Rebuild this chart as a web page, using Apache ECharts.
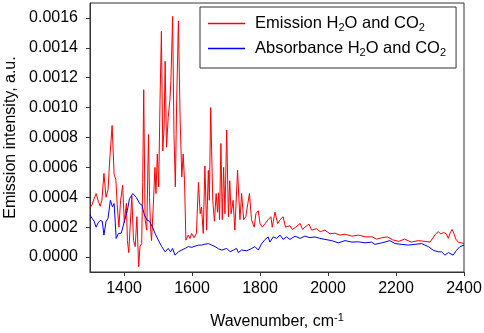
<!DOCTYPE html>
<html>
<head>
<meta charset="utf-8">
<script src="https://cdn.jsdelivr.net/npm/echarts@6/dist/echarts.min.js"></script>
<style>
html,body{margin:0;padding:0;background:#fff;}
#chart{width:484px;height:333px;}
</style>
</head>
<body>
<div id="chart"></div>
<script>
// Wavenumbers (cm-1) and emission values (units of 1e-4 a.u.)
var emissionX = [1300,1306,1312,1318,1325,1330,1335,1341,1347,1353,1358,1365,1371,1376,1380,1385,1390,1396,1401,1407,1410,1414,1418,1423,1428,1433,1438,1443,1447,1452,1455,1458,1462,1467,1472,1475,1478,1481,1486,1491,1494,1498,1502,1506,1510,1514,1518,1521,1525,1530,1535,1538,1543,1547,1551,1555,1560,1565,1570,1574,1578,1582,1589,1594,1599,1606,1613,1619,1624,1628,1633,1638,1643,1648,1651,1655,1661,1666,1671,1675,1678,1681,1685,1689,1693,1697,1702,1707,1711,1715,1721,1726,1734,1741,1746,1752,1758,1763,1769,1775,1783,1788,1795,1800,1807,1815,1824,1832,1836,1844,1852,1859,1868,1875,1880,1888,1895,1905,1918,1925,1932,1944,1952,1966,1977,1991,2006,2020,2035,2050,2070,2090,2110,2130,2143,2160,2175,2190,2208,2225,2245,2265,2285,2300,2305,2315,2324,2332,2340,2348,2354,2359,2365,2370,2376,2383,2392,2400];
var emissionY = [3.3,3.5,3.9,4.25,3.7,3.4,3.8,5.6,4.0,4.5,6.5,8.8,5.5,5.2,3.5,2.0,3.8,4.8,2.3,3.6,1.1,0.3,2.0,4.1,1.1,0.7,2.7,-0.65,0.7,0.9,5.0,11.2,2.5,1.8,8.2,4.0,2.0,1.1,3.35,6.0,4.25,6.9,4.7,10.5,15.1,7.1,8.7,13.1,7.35,9.35,10.5,11.8,16.1,8.2,4.7,10.5,15.8,9.3,5.35,6.9,5.1,1.13,1.47,1.24,1.58,1.3,1.58,5.0,2.9,3.35,1.58,6.1,1.8,5.8,3.8,10.0,3.8,2.4,4.25,3.0,4.3,2.5,7.6,2.5,6.0,2.9,8.5,2.7,5.1,2.9,3.8,1.8,5.8,2.5,4.25,2.5,2.7,2.7,4.25,2.5,2.0,2.9,3.1,2.24,2.0,2.24,2.5,2.7,2.0,3.0,2.24,2.5,2.7,2.0,1.9,2.1,1.85,2.0,2.25,1.85,2.0,2.2,1.8,1.9,1.7,1.8,1.55,1.6,1.47,1.53,1.4,1.47,1.35,1.35,1.2,1.3,1.35,1.15,1.05,1.2,1.0,1.1,1.05,1.0,1.1,1.5,1.7,1.55,1.65,1.55,1.25,1.6,1.85,1.6,1.2,1.0,0.95,0.9];

// Absorbance curve (units of 1e-4 a.u.)
var absorbanceX = [1300,1306,1312,1318,1324,1330,1336,1341,1347,1353,1360,1366,1371,1377,1384,1392,1402,1410,1416,1426,1436,1446,1453,1460,1468,1475,1484,1491,1501,1511,1521,1530,1537,1543,1550,1560,1570,1580,1589,1599,1609,1619,1628,1638,1648,1658,1668,1678,1688,1702,1712,1722,1731,1736,1746,1761,1776,1785,1795,1805,1815,1824,1829,1839,1849,1859,1868,1878,1888,1903,1918,1932,1947,1962,1976,1991,2011,2030,2050,2070,2089,2109,2128,2138,2158,2182,2197,2236,2275,2295,2310,2324,2334,2344,2354,2368,2378,2388,2400];
var absorbanceY = [2.8,2.6,2.4,2.0,2.3,2.45,2.4,1.47,2.36,2.6,3.8,3.36,3.58,1.24,1.58,1.6,2.47,3.13,3.9,4.25,4.0,3.58,3.47,2.8,2.47,2.4,2.0,1.6,1.13,0.7,0.35,0.58,0.35,0.58,0.13,0.35,0.47,0.58,0.7,0.65,0.73,0.8,0.8,0.86,0.9,0.8,0.7,0.55,0.47,0.58,0.35,0.47,0.58,0.3,0.47,0.42,0.58,0.7,0.47,0.9,1.18,1.35,1.0,1.35,1.25,1.47,1.18,1.35,1.18,1.4,1.25,1.4,1.3,1.35,1.25,1.18,1.1,0.95,1.1,1.0,1.02,0.95,1.0,0.85,0.95,1.1,0.9,0.8,0.9,0.7,0.45,0.35,0.35,0.13,0.3,0.13,0.45,0.7,0.8];

var xTicks = [1400,1600,1800,2000,2200,2400];
var yTicks = [0,0.0002,0.0004,0.0006,0.0008,0.0010,0.0012,0.0014,0.0016];

function pairs(xs, ys){
  var out = [];
  for (var i = 0; i < xs.length; i++) out.push([xs[i], ys[i] * 1e-4]);
  return out;
}

var FONT = 'Liberation Sans, Arial, sans-serif';
var LF = 16.5;
var chart = echarts.init(document.getElementById('chart'), null, {renderer:'canvas'});
chart.setOption({
  animation:false,
  backgroundColor:'#fff',
  grid:{left:90,right:20,top:3,bottom:61,show:true,borderColor:'#333',borderWidth:1,
        backgroundColor:'transparent',containLabel:false,outerBoundsMode:'none'},
  legend:{
    orient:'vertical',left:200,top:7,
    padding:[8,10,10,8],itemGap:7,
    itemWidth:37,itemHeight:1.5,
    icon:'rect',
    borderColor:'#333',borderWidth:1,
    backgroundColor:'#fff',
    textStyle:{
      fontFamily:FONT,fontSize:LF,color:'#000',
      rich:{
        f:{fontFamily:FONT,fontSize:LF,color:'#000',lineHeight:19,padding:[0,0,0,5]},
        a:{fontFamily:FONT,fontSize:LF,color:'#000',lineHeight:19},
        sub:{fontFamily:FONT,fontSize:11,color:'#000',verticalAlign:'bottom',lineHeight:19}
      }
    },
    formatter:function(name){
      var parts = name.split('2');
      var s = '';
      for (var i = 0; i < parts.length; i++) {
        if (parts[i]) s += '{' + (i === 0 ? 'f' : 'a') + '|' + parts[i] + '}';
        if (i < parts.length - 1) s += '{sub|2}';
      }
      return s;
    },
    data:[
      {name:'Emission H2O and CO2',icon:'rect',itemStyle:{color:'#ff0000'}},
      {name:'Absorbance H2O and CO2',icon:'rect',itemStyle:{color:'#0000ff'}}
    ]
  },
  xAxis:{
    type:'value',min:1300,max:2400,
    name:'{a|Wavenumber, cm}{sup|-1}',nameLocation:'middle',nameGap:40,
    nameTextStyle:{fontFamily:FONT,fontSize:16,color:'#000',
      rich:{a:{fontFamily:FONT,fontSize:16,color:'#000',lineHeight:20},
            sup:{fontFamily:FONT,fontSize:11,color:'#000',verticalAlign:'top',lineHeight:20}}},
    axisLine:{show:true,onZero:false,lineStyle:{color:'#333',width:1}},
    axisTick:{show:true,inside:false,length:4,customValues:xTicks,lineStyle:{color:'#333'}},
    axisLabel:{customValues:xTicks,fontFamily:FONT,fontSize:16,color:'#000',margin:9,
      formatter:function(v){return String(v);}},
    splitLine:{show:false}
  },
  yAxis:{
    type:'value',min:-0.0001,max:0.0017,
    name:'Emission intensity, a.u.',nameLocation:'middle',nameGap:70,
    nameTextStyle:{fontFamily:FONT,fontSize:16,color:'#000'},
    axisLine:{show:true,onZero:false,lineStyle:{color:'#333',width:1}},
    axisTick:{show:true,inside:false,length:4,customValues:yTicks,lineStyle:{color:'#333'}},
    axisLabel:{customValues:yTicks,fontFamily:FONT,fontSize:16,color:'#000',margin:12,
      formatter:function(v){return v.toFixed(4);}},
    splitLine:{show:false}
  },
  series:[
    {name:'Emission H2O and CO2',type:'line',symbol:'none',data:pairs(emissionX,emissionY),
     lineStyle:{color:'#ff0000',width:1},itemStyle:{color:'#ff0000'}},
    {name:'Absorbance H2O and CO2',type:'line',symbol:'none',data:pairs(absorbanceX,absorbanceY),
     lineStyle:{color:'#0000ff',width:1},itemStyle:{color:'#0000ff'}}
  ]
});
</script>
</body>
</html>
